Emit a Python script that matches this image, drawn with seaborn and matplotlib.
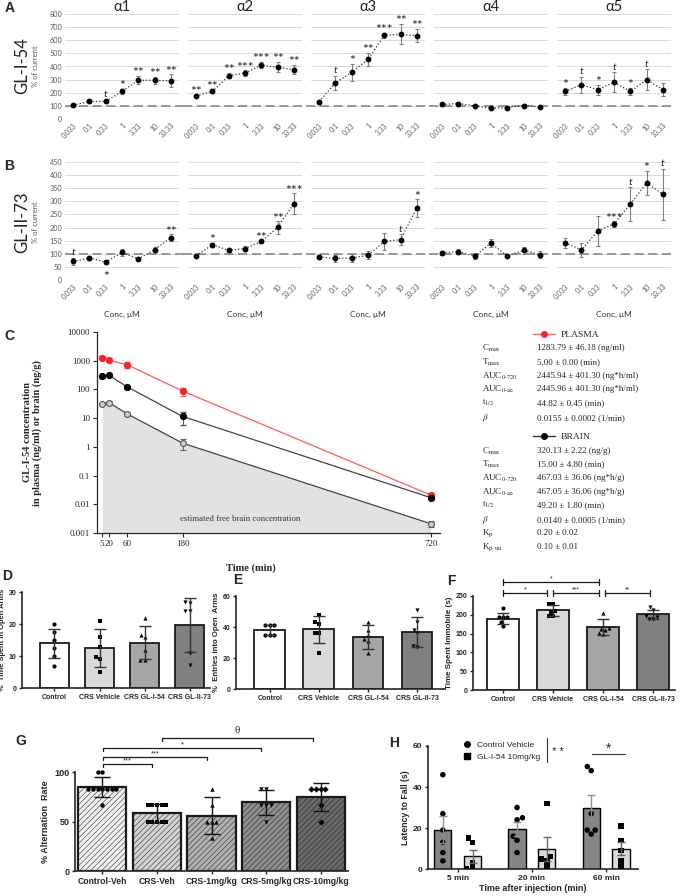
import warnings
import numpy as np
import pandas as pd
import matplotlib
matplotlib.use("Agg")
import matplotlib.pyplot as plt
import seaborn as sns
from matplotlib.lines import Line2D
from matplotlib.ticker import NullLocator

warnings.filterwarnings("ignore")

# ---------------- A / B : oocyte recordings ----------------
conc_labels = ["0.033", "0.1", "0.33", "1", "3.33", "10", "33.33"]
subunits = ["α1", "α2", "α3", "α4", "α5"]

gl154_mean = [
    [105, 135, 135, 210, 295, 295, 290],
    [175, 210, 330, 350, 410, 395, 375],
    [133, 275, 356, 454, 638, 645, 635],
    [111, 118, 100, 82, 87, 102, 92],
    [210, 262, 223, 280, 210, 300, 223],
]
gl154_err = [
    [12, 10, 10, 18, 30, 25, 50],
    [8, 15, 20, 20, 25, 40, 35],
    [15, 55, 64, 50, 20, 77, 50],
    [10, 12, 5, 5, 8, 10, 8],
    [28, 61, 38, 77, 25, 80, 51],
]
gl154_notes = [
    ["", "", "t", "*", "**", "**", "**"],
    ["**", "**", "**", "***", "***", "**", "**"],
    ["", "t", "*", "**", "***", "**", "**"],
    ["", "", "", "", "", "", ""],
    ["*", "t", "*", "t", "*", "t", ""],
]

gl273_mean = [
    [71, 84, 68, 105, 80, 116, 161],
    [92, 135, 113, 120, 147, 201, 291],
    [88, 82, 84, 94, 147, 154, 275],
    [104, 108, 91, 141, 91, 113, 97],
    [141, 115, 187, 214, 289, 370, 327],
]
gl273_err = [
    [13, 8, 8, 15, 8, 8, 14],
    [5, 8, 5, 8, 5, 24, 40],
    [8, 15, 15, 15, 32, 20, 34],
    [8, 10, 10, 15, 5, 12, 12],
    [19, 28, 57, 10, 65, 46, 98],
]
gl273_notes = [
    ["t", "", "*", "", "", "", "**"],
    ["", "*", "", "", "**", "**", "***"],
    ["", "", "", "", "", "t", "*"],
    ["", "", "", "", "", "", ""],
    ["", "", "", "***", "t", "*", "t"],
]
gl273_below = [(0, 2)]

# ---------------- C : pharmacokinetics ----------------
pk_time = [5, 20, 60, 180, 720]
plasma_conc = [1284, 1050, 720, 88, 0.021]
plasma_err = [120, 100, 170, 28, 0.003]
brain_conc = [285, 310, 122, 11.5, 0.017]
brain_err = [25, 20, 15, 5.5, 0.002]
free_conc = [32, 35, 14, 1.35, 0.0021]
free_err = [3, 3, 2, 0.6, 0.0005]

plasma_params = ["1283.79 ± 46.18 (ng/ml)", "5.00 ± 0.00 (min)",
                 "2445.94 ± 401.30 (ng*h/ml)", "2445.96 ± 401.30 (ng*h/ml)",
                 "44.82 ± 0.45 (min)", "0.0155 ± 0.0002 (1/min)"]
brain_params = ["320.13 ± 2.22 (ng/g)", "15.00 ± 4.80 (min)",
                "467.03 ± 36.06 (ng*h/g)", "467.05 ± 36.06 (ng*h/g)",
                "49.20 ± 1.80 (min)", "0.0140 ± 0.0005 (1/min)",
                "0.20 ± 0.02", "0.10 ± 0.01"]
param_names = [r"C$_{\mathrm{max}}$", r"T$_{\mathrm{max}}$", r"AUC$_{\mathrm{0\text{-}720}}$",
               r"AUC$_{\mathrm{0\text{-}\infty}}$", r"t$_{\mathrm{1/2}}$", r"$\beta$",
               r"K$_{\mathrm{p}}$", r"K$_{\mathrm{p,uu}}$"]

# ---------------- D / E / F : EPM and FST ----------------
epm_groups = ["Control", "CRS Vehicle", "CRS GL-I-54", "CRS GL-II-73"]
epm_colors = ["white", "#d9d9d9", "#a6a6a6", "#808080"]
epm_markers = ["o", "s", "^", "v"]

time_open_mean = [14.0, 12.5, 14.2, 19.7]
time_open_sd = [4.5, 5.8, 5.1, 8.4]
time_open_pts = [[20, 17.4, 15.1, 12.5, 9.9, 7.0], [20.8, 16, 12.8, 9.7, 9.2, 5.0],
                 [21.9, 16.7, 16.0, 12.0, 8.8, 8.6], [26.9, 26.6, 24.0, 24.0, 11.0, 7.3]]

entries_mean = [38, 38.5, 33.5, 37]
entries_sd = [3.3, 8.6, 8.0, 9.6]
entries_pts = [[41, 41, 41, 35, 35, 35], [47.5, 43, 42, 36, 36, 23],
               [43, 38, 35, 32, 31, 23], [51, 43, 38, 36, 28, 27]]

immobile_mean = [190, 212, 167, 201]
immobile_sd = [15, 15, 21, 13]
immobile_pts = [[218, 195, 193, 193, 180, 170], [228, 228, 210, 208, 198, 198],
                [205, 165, 162, 160, 152, 150], [220, 212, 198, 195, 190, 190]]

# ---------------- G : Y-maze ----------------
ymaze_groups = ["Control-Veh", "CRS-Veh", "CRS-1mg/kg", "CRS-5mg/kg", "CRS-10mg/kg"]
ymaze_colors = ["#f0f0f0", "#d2d2d2", "#b0b0b0", "#8e8e8e", "#6a6a6a"]
ymaze_markers = ["o", "s", "^", "v", "D"]
ymaze_mean = [85, 58.3, 56, 69.4, 74.5]
ymaze_sd = [10, 9, 19, 12.6, 14]
ymaze_pts = [[100, 100, 83.3, 83.3, 83.3, 83.3, 83.3, 83.3, 83.3, 66.7],
             [66.7, 66.7, 66.7, 66.7, 66.7, 50, 50, 50, 50, 50],
             [83.3, 66.7, 50, 50, 50, 33.3],
             [83.3, 83.3, 66.7, 66.7, 66.7, 50],
             [83.3, 83.3, 83.3, 83.3, 66.7, 50]]

# ---------------- H : rotarod ----------------
rotarod_times = ["5 min", "20 min", "60 min"]
rotarod_treatments = ["Control Vehicle", "GL-I-54 10mg/kg"]
rotarod_vehicle_mean = [19.2, 19.5, 30]
rotarod_vehicle_sem = [6.6, 3.3, 6.3]
rotarod_gl_mean = [6.2, 9.6, 9.8]
rotarod_gl_sem = [3.3, 5.8, 3.2]
rotarod_vehicle_pts = [[46, 27, 19, 13, 8, 4], [30, 25, 24, 16, 14, 8], [50, 48, 27, 19, 19, 17]]
rotarod_gl_pts = [[15, 13, 3, 0, 0], [32, 6, 5, 4, 1], [21, 14, 9, 4, 1]]

sns.set_theme(style="ticks")
plt.rcParams["font.family"] = ["Liberation Sans", "DejaVu Sans"]
plt.rcParams["mathtext.fontset"] = "stix"
plt.rcParams["hatch.linewidth"] = 0.35
plt.rcParams["hatch.color"] = "#444444"

W, H = 685, 896
fig = plt.figure(figsize=(6.85, 8.96), dpi=100)
fig.patch.set_facecolor("white")


def rect(x0, y0, x1, y1):
    return [x0 / W, 1 - y1 / H, (x1 - x0) / W, (y1 - y0) / H]


def bold_ticks(ax, size):
    ax.tick_params(labelsize=size, length=2.5, width=1, pad=1.5)
    for t in ax.get_xticklabels() + ax.get_yticklabels():
        t.set_fontweight("bold")


# ---------------- A / B ----------------
panel_x = [(65, 179), (188, 302), (311, 425), (434, 548), (557, 671)]
calibri = ["Lato", "DejaVu Sans"]


def ephys_row(means, errs, notes, below, top, bottom, ymax, ystep, first_row):
    idx = np.arange(len(conc_labels))
    for k, (x0, x1) in enumerate(panel_x):
        ax = fig.add_axes(rect(x0, top, x1, bottom))
        ax.set_xlim(-0.5, len(conc_labels) - 0.5)
        ax.set_ylim(0, ymax)
        ax.set_yticks(np.arange(0, ymax + 1, ystep))
        ax.grid(axis="y", color="#d9d9d9", lw=0.7)
        ax.set_axisbelow(True)
        for s in ax.spines.values():
            s.set_visible(False)
        ax.axhline(100, xmin=0 if k == 0 else -0.04, xmax=1.0 if k == 4 else 1.04,
                   color="#7f7f7f", lw=1.1, ls=(0, (6, 3)), clip_on=False, zorder=1)
        sns.lineplot(x=idx, y=means[k], ax=ax, color="#333333", lw=0.9,
                     linestyle=":", zorder=2)
        ax.errorbar(idx, means[k], yerr=errs[k], fmt="o", ms=3.2, color="black",
                    ecolor="#808080", elinewidth=0.8, capsize=1.6, capthick=0.8, zorder=3)
        for i, note in enumerate(notes[k]):
            if not note:
                continue
            if (k, i) in below:
                y, va = means[k][i] - errs[k][i] - ymax * 0.02, "top"
            else:
                y, va = means[k][i] + errs[k][i] + ymax * 0.005, "bottom"
            if note == "t":
                ax.text(i, y, "t", ha="center", va=va, fontsize=7.5, style="italic",
                        family=calibri, color="#222222")
            else:
                ax.text(i, y - ymax * 0.035, note, ha="center", va=va,
                        fontsize=10, family=calibri, color="#222222", clip_on=False)
        ax.set_xticks(idx)
        ax.set_xticklabels(conc_labels, rotation=45, ha="right", rotation_mode="anchor",
                           fontsize=5, color="#595959", family=calibri)
        ax.tick_params(length=0, pad=2)
        if k == 0:
            ax.set_yticklabels([str(v) for v in np.arange(0, ymax + 1, ystep)],
                               fontsize=5.2, color="#595959", family=calibri)
        else:
            ax.set_yticklabels([])
        if first_row:
            ax.set_title(subunits[k], fontsize=10.5, pad=1, family=calibri, color="#222222")
        else:
            ax.set_xlabel("Conc, μM", fontsize=6, family=calibri, color="#333333")
            ax.xaxis.set_label_coords(0.5, -0.26)


ephys_row(gl154_mean, gl154_err, gl154_notes, [], 14, 119, 800, 100, True)
ephys_row(gl273_mean, gl273_err, gl273_notes, gl273_below, 162, 280, 450, 50, False)

fig.text(22 / W, 1 - 66 / H, "GL-I-54", rotation=90, fontsize=12, ha="center",
         va="center", family=calibri, color="#222222")
fig.text(35 / W, 1 - 66 / H, "% of current", rotation=90, fontsize=5.5, ha="center",
         va="center", family=calibri, color="#595959")
fig.text(22 / W, 1 - 222 / H, "GL-II-73", rotation=90, fontsize=12, ha="center",
         va="center", family=calibri, color="#222222")
fig.text(35 / W, 1 - 222 / H, "% of current", rotation=90, fontsize=5.5, ha="center",
         va="center", family=calibri, color="#595959")

# ---------------- C ----------------
serif = ["Liberation Serif", "DejaVu Serif"]
axc = fig.add_axes(rect(97, 332, 440, 533))
axc.set_yscale("log")
axc.set_xlim(-6, 740)
axc.set_ylim(0.001, 10000)
axc.fill_between(pk_time, free_conc, 0.001, color="#e2e2e2", lw=0, zorder=0)
sns.lineplot(x=pk_time, y=plasma_conc, ax=axc, color="#ff5a5a", lw=0.9, zorder=2)
sns.lineplot(x=pk_time, y=brain_conc, ax=axc, color="#444444", lw=0.9, zorder=2)
sns.lineplot(x=pk_time, y=free_conc, ax=axc, color="#444444", lw=0.9, zorder=2)
axc.errorbar(pk_time, plasma_conc, yerr=plasma_err, fmt="o", ms=4.2, color="#ff2020",
             ecolor="#ff6060", elinewidth=0.8, capsize=2.2, zorder=3)
axc.errorbar(pk_time, brain_conc, yerr=brain_err, fmt="o", ms=4.2, color="black",
             ecolor="#555555", elinewidth=0.8, capsize=2.2, zorder=3)
axc.errorbar(pk_time, free_conc, yerr=free_err, fmt="o", ms=4.2, mfc="#d0d0d0",
             mec="#555555", mew=0.8, ecolor="#666666", elinewidth=0.8, capsize=2.2, zorder=3)
decades = [0.001, 0.01, 0.1, 1, 10, 100, 1000, 10000]
axc.set_yticks(decades)
axc.set_yticklabels(["0.001", "0.01", "0.1", "1", "10", "100", "1000", "10000"],
                    fontsize=6.5, family=serif)
axc.yaxis.set_minor_locator(NullLocator())
axc.set_xticks(pk_time)
axc.set_xticklabels([str(t) for t in pk_time], fontsize=6.5, family=serif)
axc.tick_params(length=3, width=0.8, pad=2)
sns.despine(ax=axc)
for s in ["left", "bottom"]:
    axc.spines[s].set_linewidth(0.9)
axc.text(305, 0.0031, "estimated free brain concentration", fontsize=6.3, family=serif,
         ha="center", va="center", color="#333333")
axc.set_xlabel("Time (min)", fontsize=7.5, fontweight="bold", family=serif)
axc.xaxis.set_label_coords(0.45, -0.15)
axc.set_ylabel("GL-I-54 concentration\nin plasma (ng/ml) or brain (ng/g)", fontsize=7.5,
               fontweight="bold", family=serif, linespacing=1.1)
axc.yaxis.set_label_coords(-0.16, 0.5)

pl_rows = [348, 362, 376, 389, 403, 418]
br_rows = [451, 464, 478, 492, 505, 520, 533, 547]
for name, val, y in zip(param_names[:6], plasma_params, pl_rows):
    fig.text(482 / W, 1 - y / H, name, fontsize=6.5, family=serif, va="center")
    fig.text(537 / W, 1 - y / H, val, fontsize=6.5, family=serif, va="center")
for name, val, y in zip(param_names, brain_params, br_rows):
    fig.text(482 / W, 1 - y / H, name, fontsize=6.5, family=serif, va="center")
    fig.text(537 / W, 1 - y / H, val, fontsize=6.5, family=serif, va="center")
h_pl = Line2D([], [], color="#ff6060", marker="o", mfc="#ff2020", mec="#ff2020", ms=4, lw=1)
h_br = Line2D([], [], color="#333333", marker="o", mfc="black", mec="black", ms=4, lw=1)
for h, lab, y in [(h_pl, "PLASMA", 335), (h_br, "BRAIN", 437)]:
    fig.legend([h], [lab], loc="center left", bbox_to_anchor=(533 / W, 1 - y / H),
               frameon=False, handlelength=2.3, handletextpad=0.6, borderpad=0,
               borderaxespad=0, prop={"family": "Liberation Serif", "size": 6.8})


# ---------------- bar + dot panels ----------------
def dot_bars(ax, groups, means, errs, points, colors, markers, width, capsize,
             msize, lw=1.3, ecolor="#333333"):
    sns.barplot(x=groups, y=means, hue=groups, palette=colors, legend=False,
                width=width, edgecolor="#1a1a1a", linewidth=lw, ax=ax, zorder=1)
    for g, pts, m in zip(groups, points, markers):
        sns.swarmplot(x=[g] * len(pts), y=pts, order=groups, marker=m, color="black",
                      size=msize, ax=ax, zorder=3, clip_on=False)
    ax.errorbar(np.arange(len(groups)), means, yerr=errs, fmt="none", ecolor=ecolor,
                elinewidth=1.0, capsize=capsize, capthick=1.0, zorder=4)
    sns.despine(ax=ax)
    for s in ["left", "bottom"]:
        ax.spines[s].set_linewidth(1.2)
    ax.set_xlabel("")


def bracket(ax, x0, x1, y, text, tick, fs, down_only=False, dy=0.0, family=None):
    kw = dict(color="#1a1a1a", lw=0.9, clip_on=False)
    ax.plot([x0, x1], [y, y], **kw)
    hi = y if down_only else y + tick
    ax.plot([x0, x0], [y - tick, hi], **kw)
    ax.plot([x1, x1], [y - tick, hi], **kw)
    ax.text((x0 + x1) / 2, y + dy, text, ha="center", va="bottom", fontsize=fs,
            clip_on=False, family=family)


# D
axd = fig.add_axes(rect(22, 592, 210, 688))
dot_bars(axd, epm_groups, time_open_mean, time_open_sd, time_open_pts, epm_colors,
         epm_markers, 0.64, 4, 3)
axd.set_xlim(-0.72, 3.45)
axd.set_ylim(0, 30)
axd.set_yticks([0, 10, 20, 30])
axd.set_ylabel("%  Time Spent in Open Arms", fontsize=5.4, fontweight="bold", labelpad=2)
bold_ticks(axd, 5)

# E
axe = fig.add_axes(rect(236, 596, 445, 689))
dot_bars(axe, epm_groups, entries_mean, entries_sd, entries_pts, epm_colors,
         epm_markers, 0.63, 4, 3)
axe.set_xlim(-0.69, 3.57)
axe.set_ylim(0, 60)
axe.set_yticks([0, 20, 40, 60])
axe.set_ylabel("%  Entries into Open  Arms", fontsize=5.6, fontweight="bold", labelpad=2)
bold_ticks(axe, 5)

# F
axf = fig.add_axes(rect(473, 596, 675, 690))
dot_bars(axf, epm_groups, immobile_mean, immobile_sd, immobile_pts, epm_colors,
         epm_markers, 0.64, 4, 3)
axf.set_xlim(-0.6, 3.44)
axf.set_ylim(0, 250)
axf.set_yticks(np.arange(0, 251, 50))
axf.set_ylabel("Time Spent Immobile (s)", fontsize=5.8, fontweight="bold", labelpad=2)
bold_ticks(axf, 5)
bracket(axf, 0, 0.87, 258, "*", 7, 5)
bracket(axf, 0.99, 1.92, 258, "***", 7, 5)
bracket(axf, 2.04, 2.94, 258, "**", 7, 5)
bracket(axf, 0, 1.92, 287, "*", 7, 5)

# G
axg = fig.add_axes(rect(75, 772, 348, 871))
dot_bars(axg, ymaze_groups, ymaze_mean, ymaze_sd, ymaze_pts, ymaze_colors,
         ymaze_markers, 0.88, 6, 3.2, lw=1.6, ecolor="#111111")
for patch in axg.patches:
    patch.set_hatch("//////")
axg.set_xlim(-0.5, 4.5)
axg.set_ylim(0, 100)
axg.set_yticks([0, 50, 100])
axg.set_ylabel("% Alternation  Rate", fontsize=6.5, fontweight="bold", labelpad=3)
bold_ticks(axg, 6.5)
axg.tick_params(axis="x", labelsize=6.2)
bracket(axg, 0.01, 0.91, 108, "***", 3, 5.5, down_only=True)
bracket(axg, 0.01, 1.92, 115, "***", 3, 5.5, down_only=True)
bracket(axg, 0.01, 2.91, 124, "*", 3, 5.5, down_only=True)
bracket(axg, 1.1, 3.85, 134, "θ", 3, 8, down_only=True, dy=3, family=serif)

# H
axh = fig.add_axes(rect(428, 746, 638, 869))
rotarod = pd.DataFrame({
    "time": rotarod_times * 2,
    "treatment": [rotarod_treatments[0]] * 3 + [rotarod_treatments[1]] * 3,
    "latency": rotarod_vehicle_mean + rotarod_gl_mean,
})
rot_pal = {rotarod_treatments[0]: "#858585", rotarod_treatments[1]: "#d9d9d9"}
sns.barplot(data=rotarod, x="time", y="latency", hue="treatment", order=rotarod_times,
            hue_order=rotarod_treatments, palette=rot_pal, width=0.8, gap=0.42,
            edgecolor="black", linewidth=1.0, legend=False, ax=axh, zorder=1)
rot_pts = pd.DataFrame({
    "time": [t for t, p in zip(rotarod_times, rotarod_vehicle_pts) for _ in p]
            + [t for t, p in zip(rotarod_times, rotarod_gl_pts) for _ in p],
    "treatment": [rotarod_treatments[0]] * sum(len(p) for p in rotarod_vehicle_pts)
                 + [rotarod_treatments[1]] * sum(len(p) for p in rotarod_gl_pts),
    "latency": sum(rotarod_vehicle_pts, []) + sum(rotarod_gl_pts, []),
})
for trt, m in zip(rotarod_treatments, ["o", "s"]):
    sns.swarmplot(data=rot_pts[rot_pts["treatment"] == trt], x="time", y="latency",
                  hue="treatment", order=rotarod_times, hue_order=rotarod_treatments,
                  palette={t: "black" for t in rotarod_treatments}, dodge=True,
                  marker=m, size=4, legend=False, ax=axh, zorder=3)
bars = sorted(axh.patches, key=lambda p: p.get_x())
centers = [b.get_x() + b.get_width() / 2 for b in bars]
axh.errorbar(centers[0::2], rotarod_vehicle_mean, yerr=rotarod_vehicle_sem, fmt="none",
             ecolor="#8f8f8f", elinewidth=1.0, capsize=3, zorder=4)
axh.errorbar(centers[1::2], rotarod_gl_mean, yerr=rotarod_gl_sem, fmt="none",
             ecolor="#666666", elinewidth=1.0, capsize=3, zorder=4)
sns.despine(ax=axh)
for s in ["left", "bottom"]:
    axh.spines[s].set_linewidth(1.2)
axh.set_xlim(-0.4, 2.43)
axh.set_ylim(0, 60)
axh.set_yticks([0, 20, 40, 60])
axh.set_ylabel("Latency to Fall (s)", fontsize=6.3, fontweight="bold", labelpad=2)
axh.set_xlabel("Time after injection (min)", fontsize=6.5, fontweight="bold", labelpad=2)
bold_ticks(axh, 6)
leg_h = [Line2D([], [], ls="none", marker="o", color="black", ms=4),
         Line2D([], [], ls="none", marker="s", color="black", ms=4)]
axh.legend(leg_h, rotarod_treatments, loc="upper left", bbox_to_anchor=(0.14, 1.07),
           frameon=False, fontsize=6, handletextpad=0.6, labelspacing=0.5,
           borderpad=0, handlelength=1.2)
axh.plot([1.2, 1.2], [52, 64], color="#333333", lw=0.8, clip_on=False)
axh.text(1.35, 57, "* *", fontsize=8, ha="center", va="center")
axh.plot([1.81, 2.26], [56, 56], color="#333333", lw=0.8)
axh.text(2.03, 55, "*", fontsize=10, ha="center", va="bottom")

# ---------------- panel letters ----------------
for letter, x, y in [("A", 5, 1), ("B", 4, 159), ("C", 4, 329), ("D", 2, 569),
                     ("E", 233, 573), ("F", 447, 574), ("G", 15, 734), ("H", 389, 736)]:
    fig.text(x / W, 1 - y / H, letter, fontsize=10, fontweight="bold", ha="left", va="top")

fig.savefig("out.png", dpi=100, facecolor="white")
